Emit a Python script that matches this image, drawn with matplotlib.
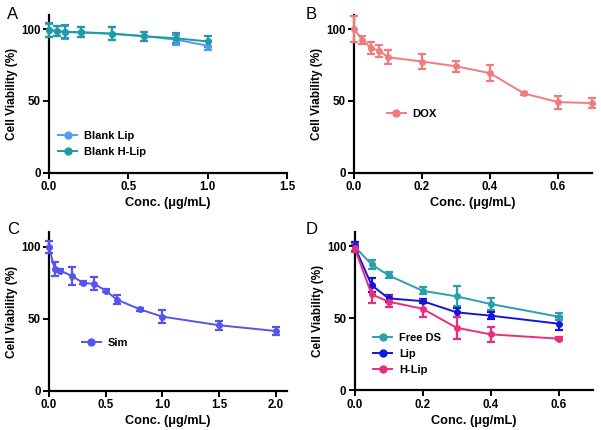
import numpy as np
import matplotlib
matplotlib.use('Agg')
import matplotlib.pyplot as plt
from matplotlib.lines import Line2D

plt.rcParams['font.family'] = ['Liberation Sans', 'DejaVu Sans']
plt.rcParams['font.weight'] = 'bold'

# A: blank liposomes
xa = [0, 0.05, 0.1, 0.2, 0.4, 0.6, 0.8, 1.0]
lip_blank = [99.0, 98.4, 97.8, 97.6, 96.6, 95.0, 92.6, 88.4]
lip_blank_err = [4.5, 3.5, 4.5, 3.5, 4.5, 3.0, 3.5, 3.0]
hlip_blank = [99.3, 98.8, 98.0, 97.8, 96.8, 95.0, 93.5, 91.4]
hlip_blank_err = [5.0, 3.5, 4.5, 3.5, 4.5, 3.0, 3.5, 4.0]

# B: DOX
xb = [0, 0.025, 0.05, 0.075, 0.1, 0.2, 0.3, 0.4, 0.5, 0.6, 0.7]
dox = [100.0, 92.4, 86.8, 84.8, 80.4, 77.4, 74.1, 69.3, 55.2, 49.2, 48.5]
dox_err = [9.0, 3.0, 4.0, 4.0, 5.0, 5.0, 4.0, 5.5, 1.0, 4.5, 3.5]

# C: Sim
xc = [0, 0.05, 0.1, 0.2, 0.3, 0.4, 0.5, 0.6, 0.8, 1.0, 1.5, 2.0]
sim = [99.8, 84.7, 83.5, 79.8, 75.0, 74.2, 69.6, 63.3, 56.6, 51.5, 45.5, 41.5]
sim_err = [4.0, 5.0, 1.0, 6.0, 1.0, 4.5, 1.0, 3.0, 1.0, 4.5, 3.0, 3.0]

# D: DS formulations
xd = [0, 0.05, 0.1, 0.2, 0.3, 0.4, 0.6]
free_ds = [100.0, 87.5, 79.9, 69.2, 65.3, 60.0, 51.2]
free_ds_err = [3.0, 3.0, 2.0, 2.5, 7.0, 4.0, 2.5]
lip = [100.0, 73.1, 63.9, 62.0, 54.2, 51.9, 46.3]
lip_err = [3.0, 5.0, 2.5, 1.5, 3.0, 2.5, 4.5]
hlip = [99.0, 66.7, 61.6, 56.7, 43.5, 38.9, 35.9]
hlip_err = [3.0, 6.0, 4.0, 6.0, 7.5, 5.0, 1.0]

fig = plt.figure(figsize=(6.01, 4.30), dpi=100)

W, H = 0.396, 0.368
axA = fig.add_axes([0.0815, 0.598, W, H])
axB = fig.add_axes([0.589, 0.598, W, H])
axC = fig.add_axes([0.0815, 0.0914, W, H])
axD = fig.add_axes([0.590, 0.0923, W, H])


def errline(ax, x, y, e, color, label):
    ax.errorbar(x, y, yerr=e, color=color, marker='o', markersize=4,
                linewidth=1.4, elinewidth=1.6, capsize=3, capthick=1.6,
                clip_on=False, zorder=3)
    return Line2D([], [], color=color, marker='o', markersize=5,
                  linewidth=1.4, label=label)


def style(ax, xlim, xticks, xlabels):
    ax.set_xlim(*xlim)
    ax.set_ylim(0, 110)
    ax.set_xticks(xticks)
    ax.set_xticklabels(xlabels)
    ax.set_yticks([0, 50, 100])
    for s in ['top', 'right']:
        ax.spines[s].set_visible(False)
    for s in ['left', 'bottom']:
        ax.spines[s].set_linewidth(1.6)
    ax.tick_params(width=1.4, length=4, labelsize=8.3, pad=2)
    for t in ax.get_xticklabels() + ax.get_yticklabels():
        t.set_fontweight('bold')
    ax.set_xlabel('Conc. (μg/mL)', fontsize=9.2, fontweight='bold', labelpad=3)
    ax.set_ylabel('Cell Viability (%)', fontsize=8.5, fontweight='bold', labelpad=2)


hA = [errline(axA, xa, lip_blank, lip_blank_err, '#559DEB', 'Blank Lip'),
      errline(axA, xa, hlip_blank, hlip_blank_err, '#1F9AA6', 'Blank H-Lip')]
style(axA, (0, 1.5), [0, 0.5, 1.0, 1.5], ['0.0', '0.5', '1.0', '1.5'])

hB = [errline(axB, xb, dox, dox_err, '#F07D7D', 'DOX')]
style(axB, (0, 0.7), [0, 0.2, 0.4, 0.6], ['0.0', '0.2', '0.4', '0.6'])

hC = [errline(axC, xc, sim, sim_err, '#5555EE', 'Sim')]
style(axC, (0, 2.1), [0, 0.5, 1.0, 1.5, 2.0], ['0.0', '0.5', '1.0', '1.5', '2.0'])

hD = [errline(axD, xd, free_ds, free_ds_err, '#2AA1AA', 'Free DS'),
      errline(axD, xd, lip, lip_err, '#1414DC', 'Lip'),
      errline(axD, xd, hlip, hlip_err, '#EC2C7E', 'H-Lip')]
style(axD, (0, 0.7), [0, 0.2, 0.4, 0.6], ['0.0', '0.2', '0.4', '0.6'])

for ax, hs, anchor in [(axA, hA, (0.02, 0.07)), (axB, hB, (0.12, 0.31)),
                       (axC, hC, (0.12, 0.24)), (axD, hD, (0.06, 0.07))]:
    ax.legend(handles=hs, loc='lower left', bbox_to_anchor=anchor,
              frameon=False, handlelength=1.7, handletextpad=0.6,
              borderaxespad=0, labelspacing=0.55,
              prop={'weight': 'bold', 'size': 8})

for letter, x, y in [('A', 0.012, 0.955), ('B', 0.508, 0.955),
                     ('C', 0.012, 0.455), ('D', 0.508, 0.455)]:
    fig.text(x, y, letter, fontsize=12, fontweight='normal')

fig.savefig('out.png', dpi=100)
